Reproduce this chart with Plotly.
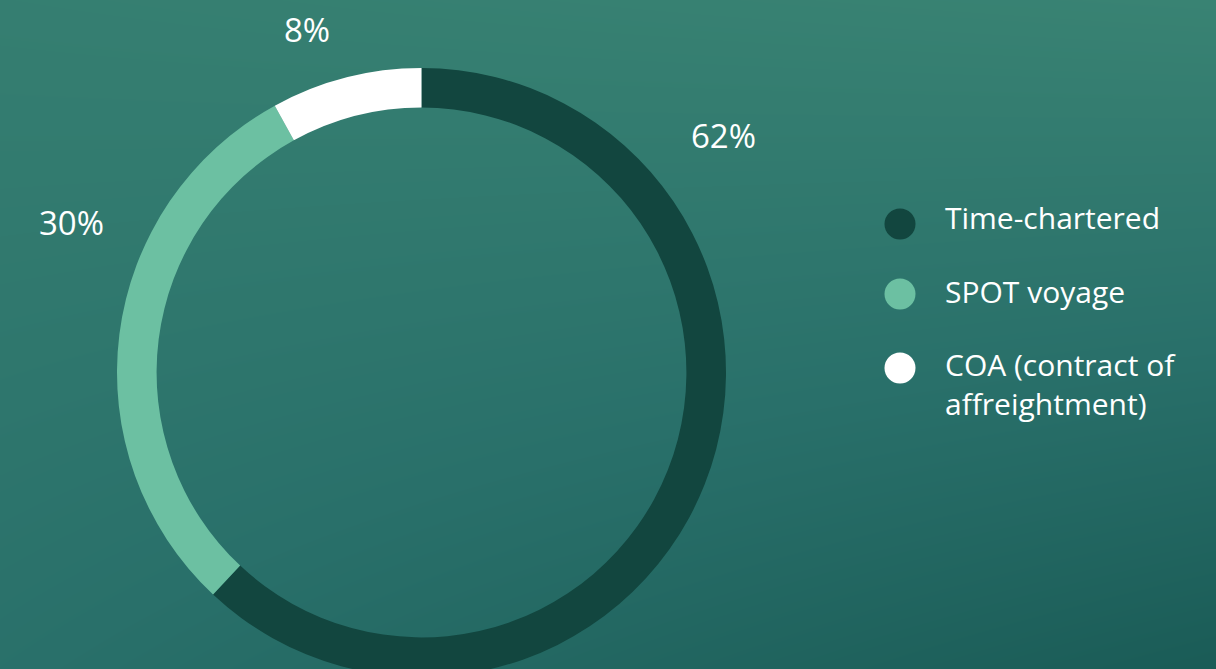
import plotly.graph_objects as go

# Fleet employment split
categories = ["Time-chartered", "SPOT voyage", "COA (contract of affreightment)"]
legend_labels = ["Time-chartered", "SPOT voyage", "COA (contract of<br>affreightment)"]
shares = [62, 30, 8]

slice_colors = ["#12463f", "#6cc0a2", "#ffffff"]

W, H = 1216, 690          # canvas (the ring runs off the bottom edge)
CX, CY, R = 421.5, 372.5, 304.5
HOLE = 0.87

FONT = "Open Sans"

fig = go.Figure()

# soft teal backdrop, lighter top-left, darker bottom-right
fig.add_trace(go.Heatmap(
    x=[0, W], y=[0, H],
    z=[[0.12, 0.0], [0.5, 1.0]],
    zsmooth="best",
    colorscale=[[0, "#398373"], [0.5, "#29706a"], [1, "#195a55"]],
    zmin=0, zmax=1, showscale=False, hoverinfo="skip",
))

fig.add_trace(go.Pie(
    labels=categories,
    values=shares,
    hole=HOLE,
    sort=False,
    direction="clockwise",
    rotation=0,
    marker=dict(colors=slice_colors, line=dict(width=0)),
    textinfo="none",
    hoverinfo="label+percent",
    showlegend=False,
    domain=dict(
        x=[(CX - R) / W, (CX + R) / W],
        y=[1 - (CY + R) / H, 1 - (CY - R) / H],
    ),
))

# custom legend with round swatches
legend_x = 900
legend_y = [224, 294, 368]
fig.add_trace(go.Scatter(
    x=[legend_x] * len(categories), y=legend_y,
    mode="markers",
    marker=dict(size=31, color=slice_colors, line=dict(width=0)),
    hoverinfo="skip", showlegend=False,
))

annotations = []
legend_text_y = [217, 291, 384]
for lab, ty in zip(legend_labels, legend_text_y):
    annotations.append(dict(
        x=943, y=ty, xref="x", yref="y", text=lab, showarrow=False,
        xanchor="left", yanchor="middle", align="left",
        font=dict(family=FONT, size=30, color="#ffffff"),
    ))

# percentage labels around the ring
label_pos = [(723, 135), (71, 222), (307, 29)]
for v, (lx, ly) in zip(shares, label_pos):
    annotations.append(dict(
        x=lx, y=ly, xref="x", yref="y", text=f"{v}%", showarrow=False,
        xanchor="center", yanchor="middle",
        font=dict(family=FONT, size=33, color="#ffffff"),
    ))

fig.update_layout(
    width=W, height=H,
    margin=dict(l=0, r=0, t=0, b=0),
    paper_bgcolor="#2a7267",
    plot_bgcolor="rgba(0,0,0,0)",
    xaxis=dict(range=[0, W], visible=False, fixedrange=True, domain=[0, 1]),
    yaxis=dict(range=[H, 0], visible=False, fixedrange=True, domain=[0, 1]),
    annotations=annotations,
    showlegend=False,
)

fig.write_html(
    "out.html",
    config={"displayModeBar": False},
    post_script="document.documentElement.style.overflow='hidden';"
                "document.body.style.overflow='hidden';"
                "document.body.style.margin='0';",
)
